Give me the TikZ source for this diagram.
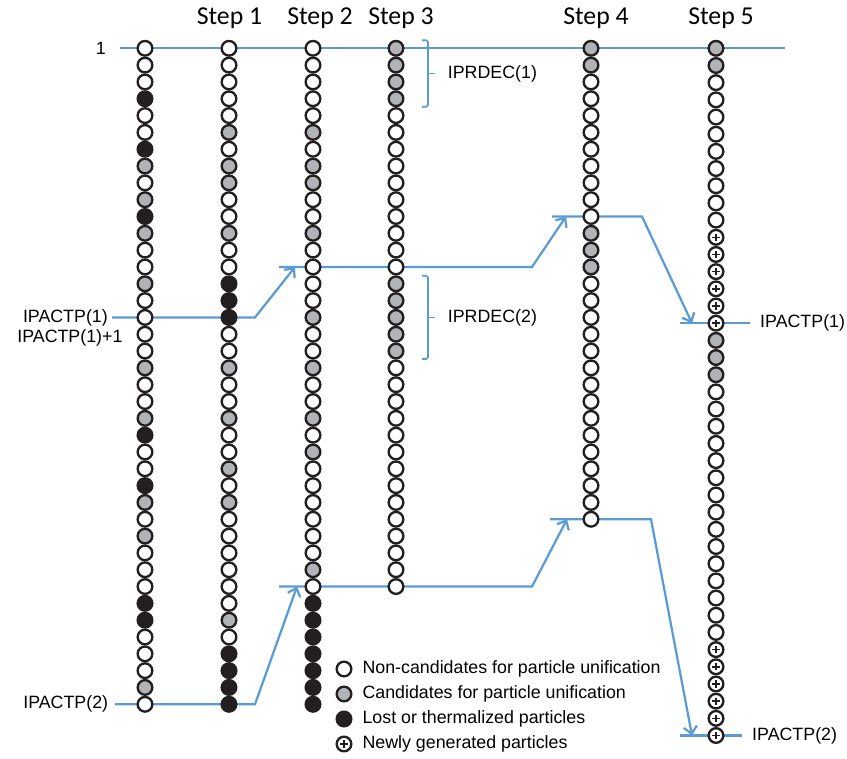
\documentclass[tikz,border=0pt]{standalone}
\usepackage{fontspec}
\setmainfont{Liberation Sans}
\newfontfamily\stepfont{Carlito}
\usetikzlibrary{arrows.meta, positioning, backgrounds, calc}
\definecolor{flowblue}{RGB}{91,155,213}
\definecolor{candgray}{RGB}{178,179,183}
\definecolor{lostblack}{RGB}{35,31,32}

\begin{document}
\begin{tikzpicture}[
  x=0.03cm, y=-0.03cm,
  particle/.style={circle, draw=lostblack, line width=2pt, minimum size=0.44cm, inner sep=0pt, outer sep=0pt, fill=white},
  pw/.style={particle},
  pg/.style={particle, fill=candgray},
  pb/.style={particle, fill=lostblack},
  pn/.style={particle, path picture={\draw[line width=1.3pt] (path picture bounding box.center) ++(-3.6,0) -- ++(7.2,0) (path picture bounding box.center) ++(0,-3.6) -- ++(0,7.2);}},
  steplabel/.style={font=\stepfont\fontsize{22}{26}\selectfont},
  lbl/.style={font=\fontsize{15.2}{18}\selectfont, inner sep=0pt},
  level/.style={line width=1.9pt, draw=flowblue},
  flow/.style={line width=1.9pt, draw=flowblue, -{Straight Barb[length=2.2mm, width=4mm]}},
  bracket/.style={line width=1.4pt, draw=flowblue, rounded corners=1.5pt}
]
\useasboundingbox (0,0) rectangle (847,758);

% Initial particle list
\foreach \t [count=\i from 0] in {w,w,w,b,w,w,b,g,w,g,b,g,w,w,g,w,w,w,w,g,w,w,g,b,w,w,b,g,w,g,w,w,w,b,b,w,w,w,g,w}
  \node[p\t] (a\i) at (145,{48.3+16.82*\i}) {};

% Step 1 - lost particles marked
\foreach \t [count=\i from 0] in {w,w,w,w,w,g,w,g,g,w,w,g,w,w,b,b,b,w,w,g,w,w,g,w,w,g,w,g,w,w,w,w,w,w,g,w,b,b,b,b}
  \node[p\t] (b\i) at (229,{48.3+16.82*\i}) {};

% Step 2 - lost particles moved to the end
\foreach \t [count=\i from 0] in {w,w,w,w,w,g,w,g,g,w,w,g,w,w,w,w,g,w,w,g,w,w,g,w,g,w,w,w,w,w,w,g,w,b,b,b,b,b,b,b}
  \node[p\t] (c\i) at (313,{48.3+16.82*\i}) {};

% Step 3 - candidates sorted to the front
\foreach \t [count=\i from 0] in {g,g,g,g,w,w,w,w,w,w,w,w,w,w,g,g,g,g,g,w,w,w,w,w,w,w,w,w,w,w,w,w,w}
  \node[p\t] (d\i) at (396,{48.3+16.82*\i}) {};

% Step 4 - after unification
\foreach \t [count=\i from 0] in {g,g,w,w,w,w,w,w,w,w,w,g,g,g,w,w,w,w,w,w,w,w,w,w,w,w,w,w,w}
  \node[p\t] (e\i) at (591,{48.3+16.82*\i}) {};

% Step 5 - new particles appended
\foreach \t [count=\i from 0] in {g,g,w,w,w,w,w,w,w,w,w,n,n,n,n,n,n,g,g,g,w,w,w,w,w,w,w,w,w,w,w,w,w,w,w,n,n,n,n,n,n}
  \node[p\t] (f\i) at (716,{48.3+17.18*\i}) {};

% Step labels
\node[steplabel] (s1) at (229.5,18) {Step 1};
\node[steplabel] (s2) at (320,18) {Step 2};
\node[steplabel] (s3) at (401,18) {Step 3};
\node[steplabel] (s4) at (596,18) {Step 4};
\node[steplabel] (s5) at (721,18) {Step 5};

% Track points
\path (a0) ++(-25,0) coordinate (topL)
      (f0) ++(69,0) coordinate (topR);
\path (a16) ++(-33,0) coordinate (u1s)
      (b16) ++(26,0) coordinate (u1e)
      (c13) ++(-34,0) coordinate (u2s)
      (c13) ++(-18,0) coordinate (u2t)
      (d13) ++(136,0) coordinate (u2e)
      (e10) ++(-39,0) coordinate (u3s)
      (e10) ++(-25,0) coordinate (u3t)
      (e10) ++(51,0) coordinate (u3e)
      (f16) ++(-36,0) coordinate (u4s)
      (f16) ++(-24,0) coordinate (u4t)
      (f16) ++(34,0) coordinate (u4e);
\path (a39) ++(-30,0) coordinate (v1s)
      (b39) ++(26,0) coordinate (v1e)
      (c32) ++(-34,0) coordinate (v2s)
      (c32) ++(-16,0) coordinate (v2t)
      (d32) ++(136,0) coordinate (v2e)
      (e28) ++(-41,0) coordinate (v3s)
      (e28) ++(-24,0) coordinate (v3t)
      (e28) ++(60,0) coordinate (v3e)
      (f40) ++(-36,0) coordinate (v4s)
      (f40) ++(-24,0) coordinate (v4t)
      (f40) ++(26,0) coordinate (v4e);

% Blue tracks behind the particles
\begin{pgfonlayer}{background}
\draw[level] (topL) -- (topR);
\draw[flow] (u1s) -- (u1e) -- (u2t);
\draw[flow] (u2s) -- (u2e) -- (u3t);
\draw[flow] (u3s) -- (u3e) -- (u4t);
\draw[level] (u4s) -- (u4e);
\draw[flow] (v1s) -- (v1e) -- (v2t);
\draw[flow] (v2s) -- (v2e) -- (v3t);
\draw[flow] (v3s) -- (v3e) -- (v4t);
\draw[level] (v4s) -- (v4e);
\end{pgfonlayer}

% Index labels
\node[lbl, left=4.2mm of topL] (one) {1};
\node[lbl, left=1.2mm of u1s] (ip1) {IPACTP(1)};
\node[lbl, left=4.5mm of a17, yshift=-1mm] (ip1b) {IPACTP(1)+1};
\node[lbl, left=2mm of v1s] (ip2) {IPACTP(2)};
\node[lbl, right=3mm of u4e] (ip1r) {IPACTP(1)};
\node[lbl, right=3mm of v4e] (ip2r) {IPACTP(2)};

% IPRDEC brackets
\path (d0) ++(26,-8) coordinate (r1t) (d3) ++(26,8) coordinate (r1b);
\draw[bracket] (r1t) -- ++(6,0) |- (r1b);
\coordinate (r1m) at ($(r1t)!0.5!(r1b)+(6,0)$);
\draw[bracket] (r1m) -- ++(7,0) coordinate (r1k);
\node[lbl, right=3.8mm of r1k] (dec1) {IPRDEC(1)};

\path (d14) ++(26,-8) coordinate (r2t) (d18) ++(26,8) coordinate (r2b);
\draw[bracket] (r2t) -- ++(6,0) |- (r2b);
\coordinate (r2m) at ($(r2t)!0.5!(r2b)+(6,0)$);
\draw[bracket] (r2m) -- ++(7,0) coordinate (r2k);
\node[lbl, right=3.8mm of r2k] (dec2) {IPRDEC(2)};

% Legend
\node[pw] (k1) at (344,669) {};
\node[pg, below=3.1mm of k1] (k2) {};
\node[pb, below=3.1mm of k2] (k3) {};
\node[pn, below=3.1mm of k3] (k4) {};
\node[lbl, right=3.3mm of k1] (t1) {Non-candidates for particle unification};
\node[lbl, right=3.3mm of k2] (t2) {Candidates for particle unification};
\node[lbl, right=3.3mm of k3] (t3) {Lost or thermalized particles};
\node[lbl, right=3.3mm of k4] (t4) {Newly generated particles};

\end{tikzpicture}
\end{document}
